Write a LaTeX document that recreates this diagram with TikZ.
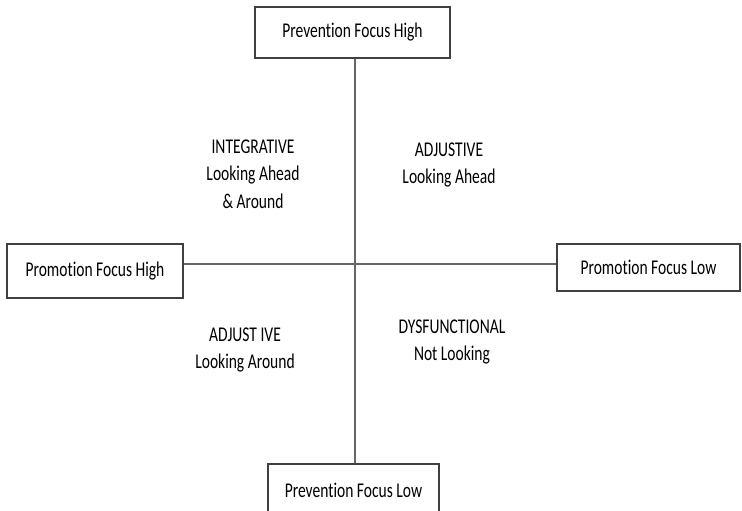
\documentclass[tikz,border=0pt]{standalone}
\usepackage{fontspec}
\setmainfont{Carlito}[FakeStretch=0.74,Ligatures=NoCommon]
\begin{document}
\begin{tikzpicture}[x=1pt,y=-1pt,
  box/.style={draw=black!75,line width=1.2pt,fill=white,inner sep=0pt,font=\fontsize{21}{27}\selectfont},
  quad/.style={align=center,inner sep=0pt,font=\fontsize{21}{27.5}\selectfont},
  axis/.style={draw=black!60,line width=1.3pt}]
\clip (0,0) rectangle (742,511);
\useasboundingbox (0,0) rectangle (742,511);
\coordinate (c) at (355,264);
\node[box,minimum width=195pt,minimum height=51pt] (ptop) at (352.5,32.5) {Prevention Focus High};
\node[box,minimum width=176pt,minimum height=54pt] (plh) at (95,271) {Promotion Focus High};
\node[box,minimum width=183pt,minimum height=47pt] (pll) at (648.5,267.5) {Promotion Focus Low};
\node[box,minimum width=171pt,minimum height=56pt] (pbot) at (353.5,492) {\raisebox{4pt}{Prevention Focus Low}};
\draw[axis] (c |- ptop.south) -- (c |- pbot.north);
\draw[axis] (plh.east |- c) -- (pll.west |- c);
\node[quad] (q1) at (253,174) {INTEGRATIVE\\Looking Ahead\\\& Around};
\node[quad] (q2) at (449,165) {ADJUSTIVE\\Looking Ahead};
\node[quad] (q3) at (245,350) {ADJUST IVE\\Looking Around};
\node[quad] (q4) at (452,342) {DYSFUNCTIONAL\\Not Looking};
\end{tikzpicture}
\end{document}
